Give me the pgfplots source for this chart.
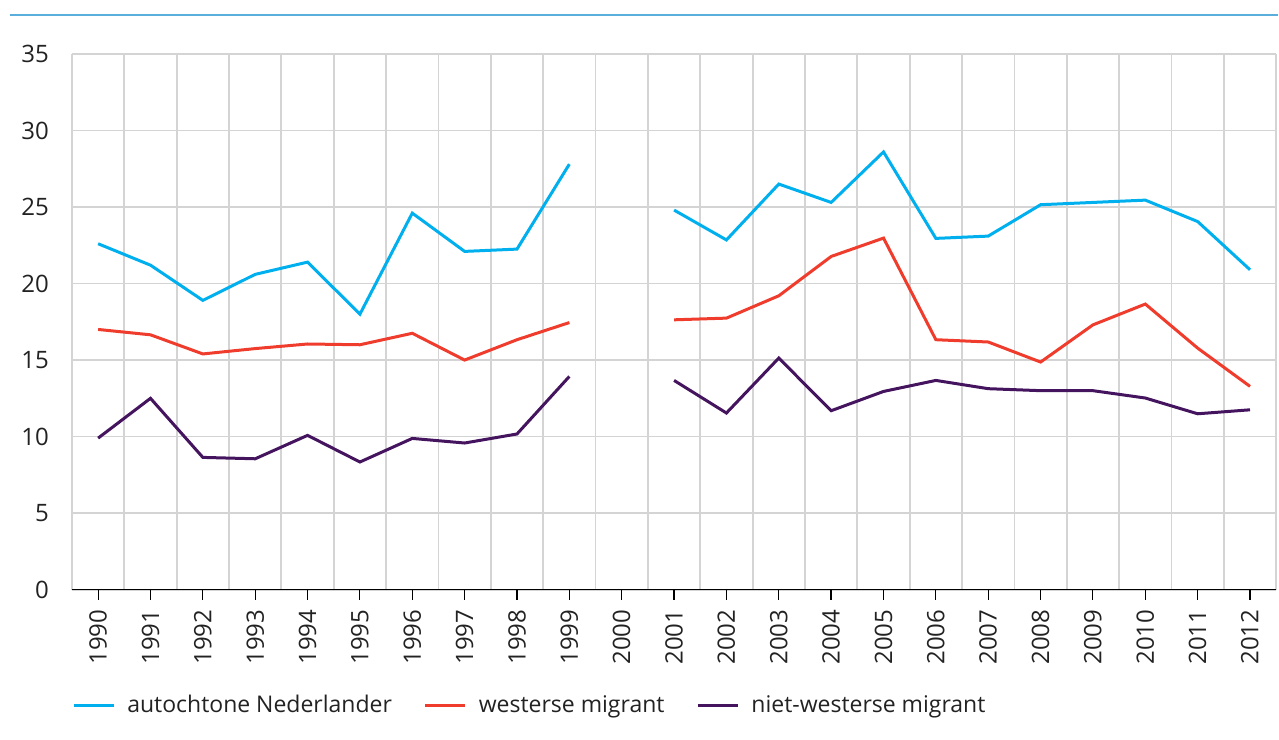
\documentclass[border=0pt]{standalone}
\usepackage{fontspec}
\setmainfont{Open Sans}
\usepackage{pgfplots}
\pgfplotsset{compat=1.18}
\definecolor{cblue}{HTML}{00B0EE}
\definecolor{cred}{HTML}{F03C2C}
\definecolor{cpurple}{HTML}{45145F}
\definecolor{cgrid}{HTML}{D4D4D4}
\definecolor{ctop}{HTML}{5AAEDC}
\definecolor{ctext}{HTML}{222222}

\begin{document}
\begin{tikzpicture}[x=1pt,y=1pt]
\path (0,0) rectangle (639.5,370);
\draw[ctop, line width=0.8pt] (5,362.5) -- (639.5,362.5);
\begin{axis}[
    at={(36pt,75pt)}, anchor=south west,
    scale only axis, width=602.5pt, height=268pt,
    xmin=1989.5, xmax=2012.5, ymin=0, ymax=35,
    xtick={1990,...,2012},
    minor xtick={1989.5,1990.5,...,2012.5},
    ytick={0,5,...,35},
    axis x line*=bottom, axis y line*=left,
    x axis line style={black, line width=0.7pt},
    y axis line style={draw=none},
    ytick style={draw=none},
    xtick style={black, line width=0.6pt},
    tick align=outside, major tick length=5pt, minor tick length=0pt,
    xminorgrids=true, ymajorgrids=true,
    grid style={cgrid, line width=0.9pt},
    minor grid style={cgrid, line width=0.9pt},
    /pgf/number format/assume math mode=true,
    every tick label/.append style={font=\fontsize{12}{14}\selectfont, text=ctext},
    xticklabel style={rotate=90, anchor=east, xshift=-1.5pt, /pgf/number format/1000 sep={}},
    yticklabel style={xshift=-3pt},
    unbounded coords=jump,
    legend style={at={(0,-0.2164)}, anchor=west, draw=none, fill=none, inner sep=0pt,
        font=\fontsize{11.5}{14}\selectfont, text=ctext,
        /tikz/every odd column/.append style={column sep=4pt},
        /tikz/every even column/.append style={column sep=14pt}},
    legend columns=-1,
    legend image code/.code={\draw[#1] (0pt,0pt) -- (20pt,0pt);},
]
\addplot[cblue, line width=1.5pt] coordinates {
 (1990,22.6) (1991,21.2) (1992,18.9) (1993,20.6) (1994,21.4) (1995,18.0)
 (1996,24.6) (1997,22.1) (1998,22.25) (1999,27.8) (2000,nan)
 (2001,24.8) (2002,22.85) (2003,26.5) (2004,25.3) (2005,28.6) (2006,22.95)
 (2007,23.1) (2008,25.15) (2009,25.3) (2010,25.45) (2011,24.05) (2012,20.9)};
\addlegendentry{autochtone Nederlander}
\addplot[cred, line width=1.5pt] coordinates {
 (1990,17.0) (1991,16.65) (1992,15.4) (1993,15.75) (1994,16.05) (1995,16.0)
 (1996,16.75) (1997,15.0) (1998,16.33) (1999,17.45) (2000,nan)
 (2001,17.63) (2002,17.74) (2003,19.2) (2004,21.77) (2005,22.97) (2006,16.33)
 (2007,16.18) (2008,14.87) (2009,17.3) (2010,18.66) (2011,15.78) (2012,13.28)};
\addlegendentry{westerse migrant}
\addplot[cpurple, line width=1.5pt] coordinates {
 (1990,9.9) (1991,12.5) (1992,8.64) (1993,8.55) (1994,10.08) (1995,8.34)
 (1996,9.88) (1997,9.58) (1998,10.17) (1999,13.93) (2000,nan)
 (2001,13.67) (2002,11.54) (2003,15.13) (2004,11.69) (2005,12.95) (2006,13.67)
 (2007,13.13) (2008,13.0) (2009,13.0) (2010,12.52) (2011,11.49) (2012,11.75)};
\addlegendentry{niet-westerse migrant}
\end{axis}
\end{tikzpicture}
\end{document}
